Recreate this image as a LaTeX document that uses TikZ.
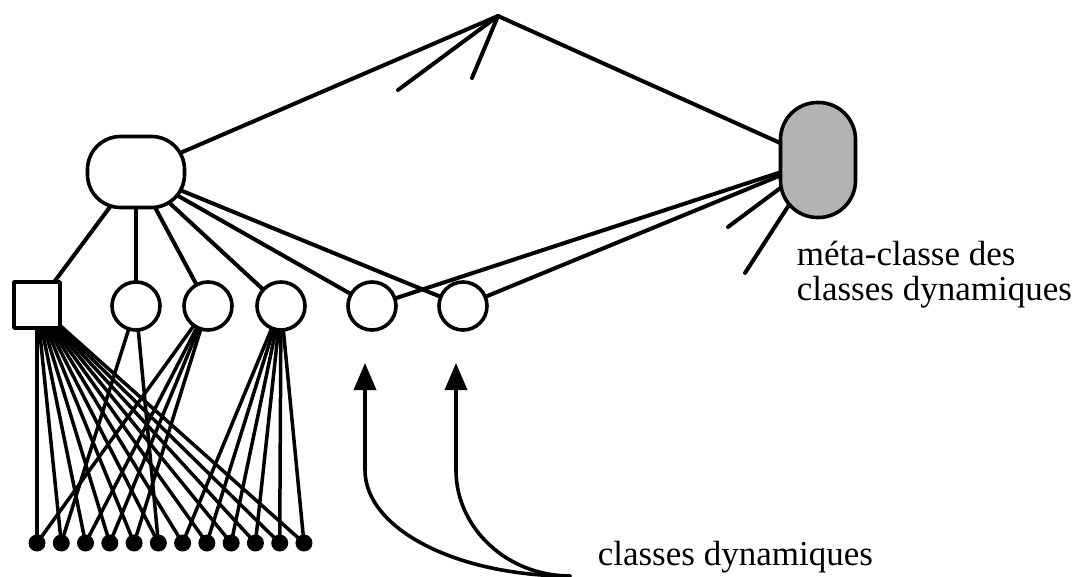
\documentclass[tikz,border=0pt]{standalone}
\usepackage{fontspec}
\setmainfont{Liberation Serif}
\usetikzlibrary{arrows.meta}
\pgfdeclarelayer{bg}
\pgfsetlayers{bg,main}
\begin{document}
\begin{tikzpicture}[x=1pt,y=-1pt, line width=3.6pt, line cap=round, line join=round,
  conn/.style={line width=4pt, line cap=round, line join=round},
  fan/.style={line width=3.5pt, line cap=round},
  oval/.style={draw, rectangle, rounded corners=33pt, minimum width=97pt, minimum height=71pt, inner sep=0pt, fill=white},
  metacls/.style={draw, rectangle, rounded corners=37pt, minimum width=75pt, minimum height=115pt, fill=black!30, inner sep=0pt},
  sqr/.style={draw, rectangle, minimum size=46pt, inner sep=0pt, fill=white},
  cls/.style={draw, circle, minimum size=48pt, inner sep=0pt, fill=white},
  inst/.style={circle, fill=black, minimum size=17pt, inner sep=0pt},
  lbl/.style={inner sep=0pt, font=\fontsize{35}{35}\selectfont},
  arr/.style={line width=3.6pt, -{Triangle[length=27pt,width=22pt]}}
]
\useasboundingbox (0,0) rectangle (1089,577);

% nodes
\coordinate (apex) at (498,16);
\coordinate (s1) at (398,90);
\coordinate (s2) at (472,78);
\coordinate (s3) at (728,227);
\coordinate (s4) at (745,273);

\node[oval] (top) at (136,172) {};
\node[metacls] (meta) at (818,160) {};
\node[sqr] (sq) at (37,305) {};
\node[cls] (c1) at (136,306) {};
\node[cls] (c2) at (208,306) {};
\node[cls] (c3) at (281,306) {};
\node[cls] (c4) at (372,306) {};
\node[cls] (c5) at (463,306) {};
\foreach \i in {1,...,12}{
  \node[inst] (d\i) at ({37+24.27*(\i-1)},543) {};
}

\node[lbl, align=left, anchor=west] (mlab) at (795,274.5) {méta-classe des\\classes dynamiques};
\node[lbl, anchor=base west] (cd) at (596,565) {classes dynamiques};

\coordinate (src) at (570,576);
\coordinate (t1) at (365,363);
\coordinate (t2) at (456,363);

% connectors (behind the nodes)
\begin{pgfonlayer}{bg}
  \draw[conn] (top.center) -- (apex) -- (meta.center);
  \draw[conn] (s1) -- (apex);
  \draw[conn] (s2) -- (apex);
  \draw[conn] (s3) -- (meta.center);
  \draw[conn] (s4) -- (meta.center);
  \foreach \n in {sq,c1,c2,c3,c4,c5}{
    \draw[conn] (top.center) -- (\n.center);
  }
  \draw[conn] (c4.center) -- (meta.center);
  \draw[conn] (c5.center) -- (meta.center);
  \foreach \i in {1,...,12}{
    \draw[fan] (sq.center) -- (d\i.center);
  }
  \foreach \i in {2,6}{
    \draw[fan] (c1.center) -- (d\i.center);
  }
  \foreach \i in {1,3,4,5}{
    \draw[fan] (c2.center) -- (d\i.center);
  }
  \foreach \i in {7,...,12}{
    \draw[fan] (c3.center) -- (d\i.center);
  }
\end{pgfonlayer}

% arrows
\draw[arr] (src) .. controls (457,576) and (365,529) .. (365,470) -- (t1);
\draw[arr] (src) .. controls (507,576) and (456,528) .. (456,470) -- (t2);
\end{tikzpicture}
\end{document}
